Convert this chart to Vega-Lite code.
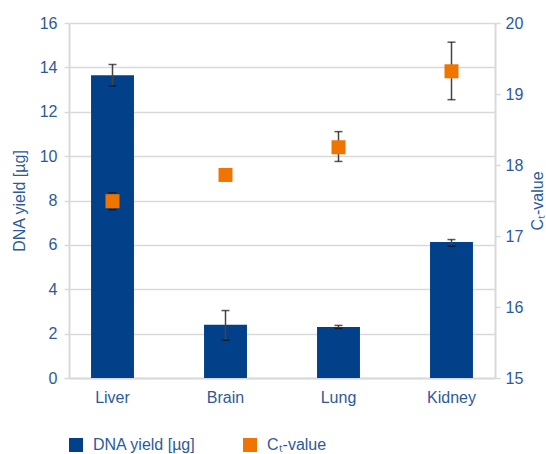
{
  "$schema": "https://vega.github.io/schema/vega-lite/v6.json",
  "width": 426,
  "height": 355,
  "autosize": {"type": "none"},
  "padding": {"left": 69, "top": 23, "right": 51, "bottom": 76},
  "config": {
    "view": {"stroke": null},
    "font": "Liberation Sans",
    "axis": {
      "labelColor": "#2d5a9b",
      "titleColor": "#2d5a9b",
      "labelFontSize": 16,
      "titleFontSize": 16,
      "titleFontWeight": "normal",
      "gridColor": "#d9d9d9",
      "gridWidth": 1.5,
      "domainColor": "#d9d9d9",
      "domainWidth": 2,
      "tickColor": "#d9d9d9",
      "tickWidth": 1.5
    },
    "legend": {
      "orient": "none",
      "legendX": -1,
      "legendY": 414,
      "direction": "horizontal",
      "symbolType": "square",
      "symbolSize": 196,
      "symbolStrokeWidth": 0,
      "labelFontSize": 16,
      "labelColor": "#2d5a9b",
      "labelOffset": 9,
      "columnPadding": 46,
      "padding": 0,
      "title": null
    }
  },
  "data": {
    "values": [
      {"tissue": "Liver", "yield": 13.65, "yield_lo": 13.17, "yield_hi": 14.13, "ct": 17.49, "ct_lo": 17.37, "ct_hi": 17.61},
      {"tissue": "Brain", "yield": 2.4, "yield_lo": 1.7, "yield_hi": 3.04, "ct": 17.86, "ct_lo": 17.86, "ct_hi": 17.86},
      {"tissue": "Lung", "yield": 2.3, "yield_lo": 2.23, "yield_hi": 2.37, "ct": 18.25, "ct_lo": 18.05, "ct_hi": 18.47},
      {"tissue": "Kidney", "yield": 6.13, "yield_lo": 5.94, "yield_hi": 6.24, "ct": 19.32, "ct_lo": 18.92, "ct_hi": 19.73}
    ]
  },
  "encoding": {
    "x": {
      "field": "tissue",
      "type": "nominal",
      "sort": null,
      "scale": {"paddingInner": 0.62, "paddingOuter": 0.195},
      "axis": {"title": null, "labelAngle": 0, "ticks": false, "labelPadding": 11, "domain": true}
    }
  },
  "layer": [
    {
      "encoding": {
        "y": {
          "field": "yield",
          "type": "quantitative",
          "scale": {"domain": [0, 16], "nice": false},
          "axis": {"title": "DNA yield [µg]", "values": [0, 2, 4, 6, 8, 10, 12, 14, 16], "tickSize": 5, "labelPadding": 7, "titlePadding": 12, "grid": true, "orient": "left"}
        }
      },
      "layer": [
        {
          "mark": {"type": "bar"},
          "encoding": {
            "color": {
              "datum": "DNA yield [µg]",
              "type": "nominal",
              "scale": {"domain": ["DNA yield [µg]", "Cₜ-value"], "range": ["#02418a", "#f07400"]},
              "legend": {"title": null}
            }
          }
        },
        {
          "mark": {"type": "rule", "color": "#444444", "strokeWidth": 1.5},
          "encoding": {"y": {"field": "yield_lo", "type": "quantitative"}, "y2": {"field": "yield_hi"}}
        },
        {
          "mark": {"type": "tick", "color": "#111111", "size": 8, "thickness": 1.5},
          "encoding": {"y": {"field": "yield_lo", "type": "quantitative"}}
        },
        {
          "mark": {"type": "tick", "color": "#111111", "size": 8, "thickness": 1.5},
          "encoding": {"y": {"field": "yield_hi", "type": "quantitative"}}
        }
      ]
    },
    {
      "encoding": {
        "y": {
          "field": "ct",
          "type": "quantitative",
          "scale": {"domain": [15, 20], "nice": false, "zero": false},
          "axis": {"title": "Cₜ-value", "orient": "right", "values": [15, 16, 17, 18, 19, 20], "grid": false, "tickSize": 5, "labelPadding": 5, "titlePadding": 7, "titleAngle": 270, "titleBaseline": "top"}
        }
      },
      "layer": [
        {
          "mark": {"type": "rule", "color": "#444444", "strokeWidth": 1.5},
          "encoding": {"y": {"field": "ct_lo", "type": "quantitative"}, "y2": {"field": "ct_hi"}}
        },
        {
          "mark": {"type": "tick", "color": "#111111", "size": 8, "thickness": 1.5},
          "encoding": {"y": {"field": "ct_lo", "type": "quantitative"}}
        },
        {
          "mark": {"type": "tick", "color": "#111111", "size": 8, "thickness": 1.5},
          "encoding": {"y": {"field": "ct_hi", "type": "quantitative"}}
        },
        {
          "mark": {"type": "point", "shape": "square", "filled": true, "size": 196, "opacity": 1},
          "encoding": {"color": {"datum": "Cₜ-value", "type": "nominal"}}
        }
      ]
    }
  ],
  "resolve": {"scale": {"y": "independent"}}
}
